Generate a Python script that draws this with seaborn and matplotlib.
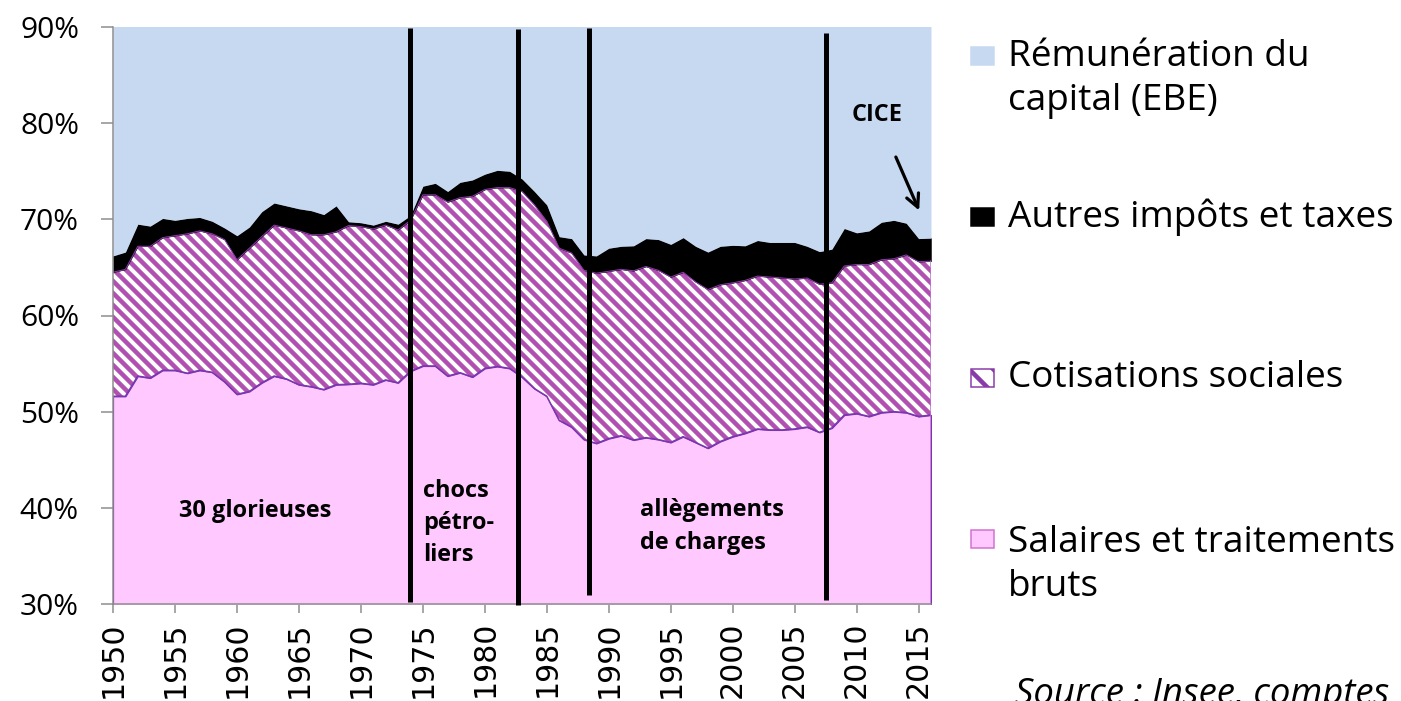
import matplotlib
matplotlib.use("Agg")
import matplotlib.pyplot as plt
import seaborn as sns
import numpy as np
import pandas as pd
from matplotlib.patches import Rectangle

# ---------------- data (shares of value added, %) ----------------
years = list(range(1950, 2017))
salaires = [51.6, 51.6, 53.7, 53.5, 54.3, 54.3, 54.0, 54.3, 54.1, 53.1,
            51.8, 52.1, 53.0, 53.7, 53.4, 52.8, 52.6, 52.3, 52.8, 52.85,
            52.95, 52.8, 53.3, 53.0, 54.2, 54.75, 54.75, 53.7, 54.05, 53.6,
            54.5, 54.7, 54.5, 53.6, 52.4, 51.6, 49.1, 48.4, 47.1, 46.7,
            47.2, 47.5, 47.05, 47.3, 47.1, 46.8, 47.4, 46.8, 46.2, 46.9,
            47.4, 47.75, 48.2, 48.1, 48.1, 48.2, 48.4, 47.85, 48.3, 49.65,
            49.8, 49.5, 49.9, 50.0, 49.9, 49.5, 49.65]
cotisations = [12.9, 13.2, 13.5, 13.7, 13.8, 14.0, 14.5, 14.5, 14.4, 14.8,
               14.0, 14.9, 15.2, 15.7, 15.7, 16.0, 15.8, 16.1, 15.9, 16.5,
               16.3, 16.2, 16.1, 15.9, 15.7, 17.8, 17.8, 18.1, 18.2, 18.8,
               18.6, 18.6, 18.8, 19.3, 19.1, 18.2, 17.9, 18.1, 17.6, 17.7,
               17.4, 17.3, 17.6, 17.8, 17.6, 17.2, 17.1, 16.7, 16.5, 16.3,
               16.0, 15.9, 15.9, 15.9, 15.8, 15.6, 15.5, 15.4, 15.1, 15.5,
               15.5, 15.8, 15.9, 15.9, 16.4, 16.1, 16.0]
autres_impots = [1.7, 1.8, 2.3, 2.1, 2.0, 1.6, 1.6, 1.4, 1.3, 1.2,
                 2.5, 2.2, 2.6, 2.3, 2.3, 2.3, 2.5, 2.1, 2.7, 0.4,
                 0.4, 0.4, 0.4, 0.6, 0.5, 0.9, 1.2, 1.1, 1.6, 1.7,
                 1.6, 1.8, 1.7, 1.3, 1.4, 1.7, 1.2, 1.5, 1.6, 1.8,
                 2.4, 2.4, 2.6, 2.9, 3.2, 3.4, 3.6, 3.7, 3.9, 4.0,
                 3.9, 3.6, 3.7, 3.6, 3.7, 3.8, 3.3, 3.4, 3.5, 3.9,
                 3.3, 3.5, 3.9, 4.0, 3.3, 2.4, 2.4]
# remuneration du capital (EBE) = remainder up to 100 %

series_labels = ["Rémunération du\ncapital (EBE)", "Autres impôts et taxes",
                 "Cotisations sociales", "Salaires et traitements\nbruts"]
period_breaks = [1974.0, 1982.7, 1988.4, 2007.5]
period_labels = ["30 glorieuses", "chocs\npétro-\nliers", "allègements\nde charges", "CICE"]
x_ticks = list(range(1950, 2016, 5))
y_ticks = [30, 40, 50, 60, 70, 80, 90]

df = pd.DataFrame({"annee": years, "salaires": salaires,
                   "cotisations": cotisations, "autres": autres_impots})
df["ebe"] = 100 - df["salaires"] - df["cotisations"] - df["autres"]
df["c1"] = df["salaires"]
df["c2"] = df["c1"] + df["cotisations"]
df["c3"] = df["c2"] + df["autres"]
df["c4"] = df["c3"] + df["ebe"]

# ---------------- style ----------------
sns.set_theme(style="white")
plt.rcParams["font.family"] = ["Open Sans", "DejaVu Sans"]
plt.rcParams["hatch.linewidth"] = 4.5
plt.rcParams["text.color"] = "black"

C_EBE = "#C6D9F1"
C_TAX = "#000000"
C_HATCH = "#B050B0"
C_SAL = "#FFC8FF"
C_EDGE = "#7B35B0"
C_AXIS = "#8C8C8C"

DPI = 72
W, H = 1401, 701
fig = plt.figure(figsize=(W / DPI, H / DPI), dpi=DPI)
fig.patch.set_facecolor("white")

def fx(px):
    return px / W

def fy(py):
    return 1 - py / H

ax = fig.add_axes([fx(113), fy(604), (931 - 113) / W, (604 - 27) / H])

x = df["annee"].values
ax.fill_between(x, 0, df["c1"], facecolor=C_SAL, edgecolor=C_EDGE, linewidth=1.2, zorder=2)
ax.fill_between(x, df["c1"], df["c2"], facecolor="white", edgecolor=C_HATCH,
                hatch="\\\\", linewidth=0.0, zorder=2)
ax.fill_between(x, df["c2"], df["c3"], facecolor=C_TAX, edgecolor=C_TAX, linewidth=0.5, zorder=2)
ax.fill_between(x, df["c3"], df["c4"], facecolor=C_EBE, linewidth=0, zorder=2)
sns.lineplot(x=x, y=df["c1"].values, color=C_EDGE, linewidth=1.6, ax=ax, zorder=3)
sns.lineplot(x=x, y=df["c2"].values, color="#8A3AA8", linewidth=1.0, ax=ax, zorder=3)
ax.plot([x[-1], x[-1]], [30, df["c2"].values[-1]], color="#C070D0", lw=1.5, zorder=3)

ax.set_xlim(1950, 2016)
ax.set_ylim(30, 90)
ax.set_xticks(x_ticks)
ax.set_xticklabels([str(v) for v in x_ticks], rotation=90, fontsize=30,
                   family=["DejaVu Sans"], va="top")
ax.set_yticks(y_ticks)
ax.set_yticklabels([f"{v}%" for v in y_ticks], fontsize=30)
ax.tick_params(axis="x", bottom=True, direction="out", length=9, width=1.5,
               color=C_AXIS, labelcolor="black", pad=8)
ax.tick_params(axis="y", left=True, direction="out", length=12, width=1.5,
               color=C_AXIS, labelcolor="black", pad=22)
for side in ["top", "right"]:
    ax.spines[side].set_visible(False)
for side in ["left", "bottom"]:
    ax.spines[side].set_color(C_AXIS)
    ax.spines[side].set_linewidth(1.5)
    ax.spines[side].set_zorder(5)
ax.set_xlabel("")
ax.set_ylabel("")

# period separators
break_spans = [(30.2, 89.9), (29.9, 89.8), (30.9, 89.9), (30.4, 89.4)]
for xb, (y0, y1) in zip(period_breaks, break_spans):
    ax.plot([xb, xb], [y0, y1], color="black", lw=5, zorder=6,
            solid_capstyle="butt", clip_on=False)

# period annotations
tkw = dict(fontsize=23.5, fontweight="bold", color="black", zorder=7)
ax.text(1961.5, 39.7, period_labels[0], ha="center", va="center", **tkw)
ax.text(1975.0, 38.4, period_labels[1], ha="left", va="center", linespacing=1.45, **tkw)
ax.text(1992.5, 38.07, period_labels[2], ha="left", va="center", linespacing=1.47, **tkw)
ax.text(2011.64, 80.83, period_labels[3], ha="center", va="center", **tkw)
ax.annotate("", xy=(2015.11, 70.73), xytext=(2013.1, 76.67),
            arrowprops=dict(arrowstyle="->", lw=3.2, color="black",
                            mutation_scale=32), zorder=7)

# legend (drawn at the right of the plot)
leg_fc = [C_EBE, C_TAX, "white", C_SAL]
leg_ec = [C_EBE, C_TAX, "#8A3AA8", "#D070D0"]
leg_hatch = [None, None, "\\", None]
leg_sq_top = [47, 208, 369, 530]
leg_text_y = [79, 217, 378, 565]
for fc, ec, hat, sq, ty, lab in zip(leg_fc, leg_ec, leg_hatch, leg_sq_top, leg_text_y, series_labels):
    r = Rectangle((fx(971), fy(sq + 18)), 23 / W, 18 / H, transform=fig.transFigure,
                  facecolor=fc, edgecolor=ec, linewidth=1.5, hatch=hat)
    fig.patches.append(r)
    fig.text(fx(1008), fy(ty), lab, fontsize=37, ha="left", va="center",
             linespacing=1.3, color="black")

fig.text(fx(1015), fy(677), "Source : Insee, comptes\nnationaux", fontsize=36.5,
         style="italic", ha="left", va="top", color="black")

fig.savefig("out.png", dpi=DPI)
